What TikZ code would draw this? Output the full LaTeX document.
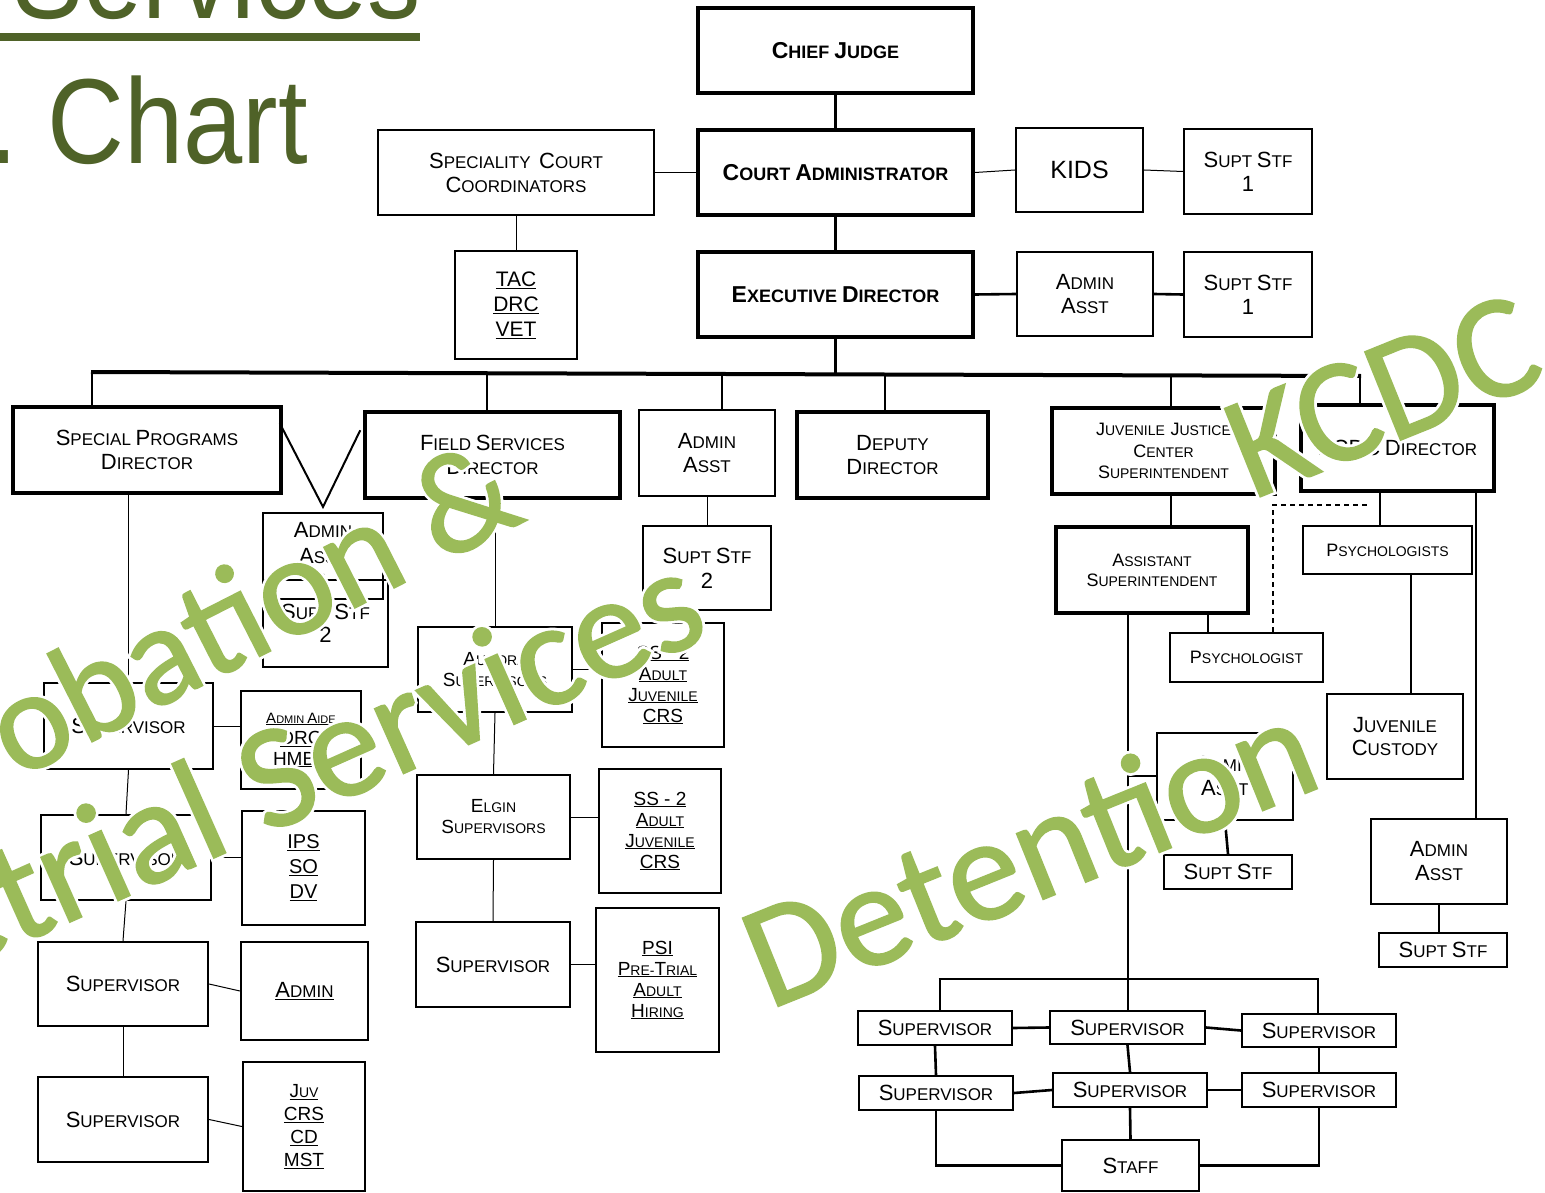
\documentclass[tikz,border=0pt]{standalone}
\usepackage{fontspec}
\setmainfont{Liberation Sans}
\newfontfamily\wmfont[FakeBold=1.2]{Carlito}
\newfontfamily\wmhalo[FakeBold=5]{Carlito}
\usetikzlibrary{calc}
\definecolor{ttlgreen}{HTML}{4F6228}
\definecolor{wmgreen}{HTML}{9BBB59}
\def\bsz{22}\def\ssz{17}
\def\wi#1#2\relax{{\fontsize{\bsz}{\bsz}\selectfont #1}{\fontsize{\ssz}{\ssz}\selectfont\uppercase{#2}}}
\newcommand\w[1]{\wi#1\relax}
\newcommand\B[1]{{\fontsize{\bsz}{\bsz}\selectfont #1}}
\newcommand\U[1]{\underline{#1}}
\newcommand\bx[7][]{\node[box,#1,minimum width={#5-#3},minimum height={#6-#4}] (#2) at ({(#3+#5)/2},{(#4+#6)/2}) {#7};}
\newcommand\wmark[5]{%
  \node[wm,text=white,font={\wmhalo\fontsize{#5}{#5}\selectfont},rotate=#3] (#1-halo) at (#2) {#4};
  \node[wm,font={\wmfont\fontsize{#5}{#5}\selectfont},rotate=#3] (#1) at (#2) {#4};}
\tikzset{
  box/.style={draw, inner sep=0pt, align=center, line width=2.2pt},
  heavy/.style={line width=3.5pt},
  sz/.style n args={3}{font={\def\bsz{#1}\def\ssz{#2}\fontsize{#2}{#3}\selectfont}},
  szb/.style n args={3}{font={\bfseries\def\bsz{#1}\def\ssz{#2}\fontsize{#2}{#3}\selectfont}},
  ln/.style={line width=1pt},
  lk/.style={line width=2.6pt},
  bus/.style={line width=4pt},
  wm/.style={anchor=base west, inner sep=0pt, outer sep=0pt, text=wmgreen},
  ttl/.style={inner sep=0pt, text=ttlgreen, font={\fontsize{121}{121}\selectfont}, xscale=0.88},
}
\begin{document}
\begin{tikzpicture}[x=1pt,y=-1pt]
\useasboundingbox (0,0) rectangle (1545,1193);
\clip (0,0) rectangle (1545,1193);
\fill[white] (0,0) rectangle (1545,1193);

% title
\node[ttl,anchor=base east] (ttl1) at (421,19) {Services};
\fill[ttlgreen] (0,33) rectangle (420,41);
\node[ttl,anchor=base west] (ttl2) at (-12,164) {.\hspace{-0.09em} Chart};

% top
\bx[heavy,szb={23}{18}{26}]{cj}{698}{8}{973}{93}{\w{Chief} \w{Judge}}
\bx[heavy,szb={23}{18}{26}]{ca}{698}{130}{973}{215}{\w{Court} \w{Administrator}}
\bx[heavy,szb={23}{18}{26}]{ed}{698}{252}{973}{337}{\w{Executive} \w{Director}}
\bx[line width=2pt,sz={22}{17}{24}]{scc}{378}{130}{654}{215}{\w{Speciality}\hspace{0.5em}\w{Court}\\\w{Coordinators}}
\bx[sz={21}{21}{25}]{tac}{455}{251}{577}{359}{\U{TAC}\\\U{DRC}\\\U{VET}}
\bx[line width=2pt,font={\fontsize{25}{28}\selectfont}]{kids}{1016}{128}{1143}{212}{KIDS}
\bx[line width=2pt,sz={22}{17}{24}]{ssa1}{1184}{129}{1312}{214}{\w{Supt} \w{Stf}\\\B{1}}
\bx[sz={22}{17}{24}]{aa1}{1017}{252}{1153}{336}{\w{Admin}\\\w{Asst}}
\bx[sz={22}{17}{24}]{ssa2}{1184}{252}{1312}{337}{\w{Supt} \w{Stf}\\\B{1}}

% second row
\bx[heavy,sz={22}{17}{24}]{spd}{13}{407}{281}{493}{\w{Special} \w{Programs}\\\w{Director}}
\bx[heavy,sz={22}{17}{24}]{fsd}{365}{412}{620}{498}{\w{Field} \w{Services}\\\w{Director}}
\bx[sz={22}{17}{24}]{aa2}{639}{410}{775}{496}{\w{Admin}\\\w{Asst}}
\bx[heavy,sz={22}{17}{24}]{dd}{797}{412}{988}{498}{\w{Deputy}\\\w{Director}}
\bx[heavy,sz={18}{14}{21.5}]{jjc}{1052}{408}{1275}{494}{\w{Juvenile}\hspace{0.4em}\w{Justice}\\\w{Center}\\\w{Superintendent}}
\bx[heavy,sz={22}{17}{24}]{kcdc}{1301}{405}{1494}{491}{\B{KCDC} \w{Director}}

% left column
\bx[sz={22}{17}{26}]{aa3}{263}{513}{383}{599}{\w{Admin}\\\w{Asst}\\\B{1}}
\bx[sz={22}{17}{23}]{sst2}{263}{580}{388}{667}{\w{Supt} \w{Stf}\\\B{2}}
\bx[sz={22}{17}{24}]{sup1}{44}{683}{213}{769}{\w{Supervisor}}
\bx[sz={19}{19}{21}]{aide}{241}{691}{361}{789}{\U{\fontsize{11}{11}\selectfont\def\bsz{15}\def\ssz{11}\w{Admin} \w{Aide}}\\\U{DRC}\\\U{HMBD}}
\bx[sz={22}{17}{24}]{sup2}{41}{815}{211}{900}{\w{Supervisor}}
\bx[sz={20}{20}{25}]{ips}{242}{811}{365}{925}{\U{IPS}\\\U{SO}\\\U{DV}}
\bx[sz={22}{17}{24}]{sup3}{38}{942}{208}{1026}{\w{Supervisor}}
\bx[sz={22}{17}{24}]{adm}{241}{942}{368}{1040}{\U{\w{Admin}}}
\bx[sz={22}{17}{24}]{sup4}{38}{1077}{208}{1162}{\w{Supervisor}}
\bx[sz={19}{14}{23}]{juv}{243}{1062}{365}{1191}{\U{\w{Juv}}\\\U{\B{CRS}}\\\U{\B{CD}}\\\U{\B{MST}}}

% middle column
\bx[sz={22}{17}{25}]{sst3}{643}{526}{771}{610}{\w{Supt} \w{Stf}\\\B{2}}
\bx[sz={19}{14}{21}]{aur}{418}{627}{572}{712}{\w{Aurora}\\\w{Supervisors}}
\bx[sz={19}{14}{21}]{ssa}{602}{623}{724}{747}{\U{\B{SS - 2}}\\\U{\w{Adult}}\\\U{\w{Juvenile}}\\\U{\B{CRS}}}
\bx[sz={19}{14}{21}]{elg}{417}{775}{570}{859}{\w{Elgin}\\\w{Supervisors}}
\bx[sz={19}{14}{21}]{ssb}{599}{769}{721}{893}{\U{\B{SS - 2}}\\\U{\w{Adult}}\\\U{\w{Juvenile}}\\\U{\B{CRS}}}
\bx[sz={22}{17}{24}]{supm}{416}{922}{570}{1007}{\w{Supervisor}}
\bx[sz={19}{14}{21}]{psi}{596}{908}{719}{1052}{\U{\B{PSI}}\\\U{\w{Pre}-\w{Trial}}\\\U{\w{Adult}}\\\U{\w{Hiring}}}

% right column
\bx[heavy,sz={18}{14}{20}]{as}{1056}{527}{1248}{613}{\w{Assistant}\\\w{Superintendent}}
\bx[sz={18}{14}{20}]{psy}{1170}{633}{1323}{682}{\w{Psychologist}}
\bx[sz={18}{14}{20}]{psys}{1303}{526}{1472}{574}{\w{Psychologists}}
\bx[sz={22}{17}{23}]{jcus}{1327}{694}{1463}{779}{\w{Juvenile}\\\w{Custody}}
\bx[sz={22}{17}{24}]{aa4}{1371}{819}{1507}{904}{\w{Admin}\\\w{Asst}}
\bx[sz={22}{17}{24}]{sst4}{1379}{933}{1507}{967}{\w{Supt} \w{Stf}}
\bx[sz={22}{17}{24}]{aa5}{1157}{733}{1293}{820}{\w{Admin}\\\w{Asst}}
\bx[sz={22}{17}{24}]{sst5}{1164}{855}{1292}{889}{\w{Supt} \w{Stf}}
\bx[sz={22}{17}{24}]{s1}{858}{1011}{1012}{1045}{\w{Supervisor}}
\bx[sz={22}{17}{24}]{s2}{1050}{1011}{1205}{1044}{\w{Supervisor}}
\bx[sz={22}{17}{24}]{s3}{1242}{1014}{1396}{1047}{\w{Supervisor}}
\bx[sz={22}{17}{24}]{s4}{859}{1076}{1013}{1110}{\w{Supervisor}}
\bx[sz={22}{17}{24}]{s5}{1053}{1073}{1207}{1107}{\w{Supervisor}}
\bx[sz={22}{17}{24}]{s6}{1242}{1073}{1396}{1107}{\w{Supervisor}}
\bx[sz={22}{17}{24}]{staff}{1062}{1140}{1199}{1191}{\w{Staff}}

% top connectors
\draw[lk] (cj.south) -- (ca.north);
\draw[lk] (ca.south) -- (ed.north);
\draw[ln] (scc.east) -- (ca.west);
\draw[ln] (ca.east) -- (kids.west);
\draw[ln] (kids.east) -- (ssa1.west);
\draw[ln] (scc.south) -- (tac.north);
\draw[lk] (ed.east) -- (aa1.west);
\draw[lk] (aa1.east) -- (ssa2.west);

% bus
\coordinate (bA) at (92,372);
\coordinate (bB) at (487,373.2);
\coordinate (bC) at (722,374);
\coordinate (bD) at (835,374.3);
\coordinate (bE) at (885,374.5);
\coordinate (bF) at (1171,375.4);
\coordinate (bG) at (1360,376);
\draw[lk] (ed.south) -- (ed.south |- bD);
\draw[bus] ([xshift=-1pt]bA) -- ([xshift=1pt]bG);
\draw[lk] (bA) -- (bA |- spd.north);
\draw[lk] (bB) -- (bB |- fsd.north);
\draw[lk] (bC) -- (bC |- aa2.north);
\draw[lk] (bE) -- (bE |- dd.north);
\draw[lk] (bF) -- (bF |- jjc.north);
\draw[lk] (bG) -- (bG |- kcdc.north);

% V connector
\draw[line width=2pt] ([shift={(-3,18)}]spd.north east) -- ([shift={(0,-5)}]aa3.north) -- ([shift={(-3,20)}]fsd.north west);

% left column connectors
\draw[ln] (sup1.north |- spd.south) -- (sup1.north);
\draw[ln] (sup1.south) -- (sup2.north);
\draw[ln] (sup2.south) -- (sup3.north);
\draw[ln] (sup3.south) -- (sup4.north);
\draw[ln] (sup1.east) -- (aide.west |- sup1.east);
\draw[ln] (sup2.east) -- (ips.west |- sup2.east);
\draw[ln] (sup3.east) -- (adm.west);
\draw[ln] (sup4.east) -- (juv.west);

% middle connectors
\draw[ln] (aur.north |- fsd.south) -- (aur.north);
\draw[ln] (aur.south) -- (elg.north);
\draw[ln] (elg.south) -- (supm.north);
\draw[ln] (aur.east) -- (ssa.west |- aur.east);
\draw[ln] (elg.east) -- (ssb.west |- elg.east);
\draw[ln] (supm.east) -- (psi.west |- supm.east);
\draw[ln] (aa2.south) -- (sst3.north);

% right connectors
\draw[lk] (jjc.south -| bF) -- (as.north -| bF);
\coordinate (xP) at (1208,0);
\draw[lk] (as.south -| xP) -- (psy.north -| xP);
\coordinate (dsh) at (1273,505);
\coordinate (dshE) at (1368,505);
\draw[line width=1.2pt, dash pattern=on 5pt off 4pt] (psy.north -| dsh) -- (dsh) -- (dshE);
\coordinate (xKa) at (1380,0);
\coordinate (xKb) at (1411,0);
\coordinate (xKc) at (1476,0);
\draw[lk] (kcdc.south -| xKa) -- (psys.north -| xKa);
\draw[lk] (psys.south -| xKb) -- (jcus.north -| xKb);
\draw[lk] (kcdc.south -| xKc) -- (aa4.north -| xKc);
\draw[lk] (aa4.south) -- (aa4.south |- sst4.north);
\coordinate (sb) at (1128,979);
\coordinate (sbL) at (940,979);
\coordinate (sbR) at (1318,979);
\coordinate (t5) at (1128,776);
\draw[lk] (as.south -| sb) -- (sb);
\draw[lk] (t5) -- (aa5.west |- t5);
\draw[lk] (aa5.south) -- (sst5.north);
\draw[lk] ([xshift=-1.3pt]sbL) -- ([xshift=1.3pt]sbR);
\draw[lk] (sbL) -- (sbL |- s1.north);
\draw[lk] (sb) -- (sb |- s2.north);
\draw[lk] (sbR) -- (sbR |- s3.north);
\draw[lk] (s1.east) -- (s2.west);
\draw[lk] (s2.east) -- (s3.west);
\draw[lk] (s4.east) -- (s5.west);
\draw[lk] (s5.east) -- (s6.west);
\draw[lk] (s1.south) -- (s4.north);
\draw[lk] (s2.south) -- (s5.north);
\draw[lk] (s3.south) -- (s6.north);
\draw[lk] (s5.south) -- (staff.north);
\draw[lk] (s4.south) |- (staff.west);
\draw[lk] (s6.south) |- (staff.east);

% watermarks
\wmark{wmA}{-91,835}{27}{Probation \&}{142}
\wmark{wmB}{-166,1027}{24}{Pretrial Services}{148}
\wmark{wmC}{1252,500}{22}{KCDC}{148}
\wmark{wmD}{769,1010}{22}{Detention}{148}
\end{tikzpicture}
\end{document}
